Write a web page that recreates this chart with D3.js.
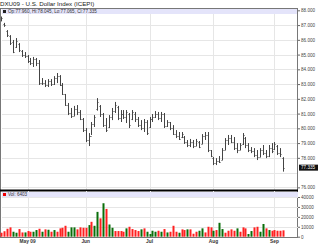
<!DOCTYPE html>
<html>
<head>
<meta charset="utf-8">
<script src="https://cdn.jsdelivr.net/npm/d3@7"></script>
<style>
  body { margin: 0; background: #fff; }
  svg { display: block; font-family: "Liberation Sans", Arial, sans-serif; }
</style>
</head>
<body>
<script>
// daily bars, 20 Apr 2009 .. 4 Sep 2009
const firstDay = new Date(2009, 3, 20);
const lastDay = new Date(2009, 8, 4);
const holidays = ["2009-05-25", "2009-07-03"];

const opens = [87.40, 87.10, 86.60, 86.25, 85.85, 85.50, 85.70, 85.25, 84.95, 84.90,
  84.55, 84.40, 84.70, 84.45, 83.10, 83.05, 82.95, 83.20, 83.00, 83.40,
  83.55, 82.95, 82.35, 81.60, 81.05, 80.85, 81.30, 81.10, 80.65, 79.90,
  79.20, 79.50, 80.30, 81.30, 81.50, 80.95, 80.20, 80.10, 80.75, 81.20,
  81.45, 80.70, 80.95, 80.80, 81.00, 80.60, 81.00, 80.60, 80.25, 80.05,
  80.40, 80.10, 80.60, 80.80, 81.00, 80.70, 80.95, 80.15, 80.40, 80.00,
  79.65, 79.45, 79.40, 79.40, 79.05, 78.85, 79.10, 78.80, 79.10, 78.95,
  79.50, 79.55, 78.50, 78.00, 77.65, 77.80, 77.85, 78.55, 79.20, 79.35,
  79.10, 78.65, 78.55, 78.95, 79.35, 78.85, 78.50, 78.45, 78.20, 78.05,
  78.50, 78.30, 78.10, 78.70, 78.60, 78.80, 78.35, 77.96];
const highs = [87.58, 87.15, 86.66, 86.32, 85.99, 86.12, 85.78, 85.31, 85.17, 84.97,
  84.77, 84.84, 84.77, 84.63, 83.41, 83.27, 83.34, 83.34, 83.54, 83.75,
  83.61, 83.07, 82.33, 81.72, 81.38, 81.52, 81.58, 81.24, 80.70, 80.02,
  79.68, 80.43, 80.90, 82.05, 81.58, 81.04, 80.70, 80.90, 81.38, 81.79,
  81.52, 81.24, 81.24, 81.24, 81.04, 81.24, 81.11, 80.77, 80.56, 80.63,
  80.56, 80.77, 80.97, 81.17, 81.11, 81.11, 81.04, 80.56, 80.43, 80.22,
  79.88, 79.75, 79.75, 79.48, 79.21, 79.28, 79.21, 79.28, 79.14, 79.61,
  79.75, 79.75, 78.53, 78.05, 77.98, 78.12, 78.66, 79.34, 79.55, 79.55,
  79.41, 79.00, 79.00, 79.68, 79.41, 79.00, 78.73, 78.66, 78.53, 78.66,
  78.87, 78.53, 78.87, 79.00, 79.07, 78.87, 78.66, 78.045];
const lows = [87.25, 86.88, 86.19, 85.65, 85.10, 85.45, 85.17, 84.84, 84.77, 84.43,
  84.29, 84.16, 84.22, 82.94, 82.94, 82.80, 82.80, 82.87, 82.94, 83.07,
  82.87, 82.26, 81.52, 80.90, 80.70, 80.84, 80.90, 80.56, 79.75, 79.07,
  78.80, 79.55, 80.09, 81.20, 80.77, 80.09, 79.75, 80.02, 80.56, 81.04,
  80.56, 80.43, 80.63, 80.36, 80.02, 80.56, 80.43, 80.09, 79.88, 79.75,
  79.55, 80.02, 80.43, 80.70, 80.56, 80.43, 80.02, 80.09, 79.88, 79.55,
  79.34, 79.21, 79.34, 78.94, 78.73, 78.73, 78.66, 78.80, 78.66, 78.94,
  79.21, 78.39, 78.05, 77.51, 77.51, 77.65, 77.85, 78.53, 78.87, 79.00,
  78.53, 78.32, 78.53, 78.87, 78.66, 78.39, 78.32, 78.05, 77.85, 78.05,
  78.19, 77.98, 78.05, 78.32, 78.53, 78.19, 78.05, 77.065];
const closes = [87.45, 87.00, 86.30, 85.80, 85.20, 85.95, 85.30, 84.95, 84.90, 84.55,
  84.40, 84.70, 84.45, 83.10, 83.05, 82.95, 83.20, 83.00, 83.40, 83.55,
  82.95, 82.35, 81.60, 81.05, 80.85, 81.30, 81.10, 80.65, 79.90, 79.20,
  79.50, 80.30, 80.80, 81.80, 80.95, 80.20, 79.90, 80.75, 81.20, 81.60,
  80.70, 80.95, 80.80, 81.10, 80.20, 81.10, 80.60, 80.25, 80.05, 80.45,
  79.70, 80.60, 80.80, 81.00, 80.70, 80.95, 80.15, 80.40, 80.00, 79.65,
  79.45, 79.30, 79.60, 79.05, 78.85, 79.10, 78.80, 79.15, 78.75, 79.50,
  79.55, 78.50, 78.15, 77.65, 77.80, 77.75, 78.55, 79.20, 79.35, 79.10,
  78.65, 78.50, 78.90, 79.55, 78.85, 78.50, 78.45, 78.20, 78.05, 78.50,
  78.30, 78.10, 78.70, 78.45, 78.95, 78.35, 78.25, 77.335];

const volumes = [4000, 5500, 8000, 9400, 5000, 4000, 7700, 4300, 4300, 5700,
  5000, 5000, 6700, 8000, 5000, 7400, 7000, 5000, 6700, 5000,
  8400, 9000, 11000, 5000, 9400, 9400, 7400, 9400, 9000, 9000,
  11700, 15000, 11000, 25000, 18500, 33700, 28000, 12300, 9000, 5700,
  5700, 5700, 5000, 8400, 10000, 7700, 6700, 5700, 7400, 8400,
  5000, 2700, 6000, 5000, 6000, 5000, 7700, 4300, 5000, 11000,
  5000, 4000, 7400, 6700, 7400, 7400, 3000, 5000, 6000, 8400,
  4300, 10000, 9400, 6000, 6700, 14000, 7700, 4000, 6000, 7400,
  6000, 8400, 5000, 9400, 8400, 2700, 5700, 9400, 10000, 5000,
  12800, 8400, 6700, 6000, 6700, 6000, 6000, 6403];
// 1 = up volume (green), -1 = down volume (red)
const volDir = [-1, -1, -1, -1, 1, 1, -1, -1, 1, -1,
  -1, 1, 1, -1, 1, -1, 1, -1, 1, -1,
  -1, -1, -1, 1, 1, 1, -1, -1, -1, -1,
  1, -1, 1, 1, -1, 1, -1, 1, 1, -1,
  -1, -1, -1, 1, -1, -1, -1, -1, 1, -1,
  1, 1, 1, 1, -1, 1, -1, 1, -1, -1,
  -1, 1, -1, -1, 1, -1, -1, -1, 1, 1,
  -1, -1, -1, 1, -1, 1, 1, -1, -1, -1,
  -1, 1, -1, -1, -1, 1, 1, -1, -1, 1,
  1, -1, 1, -1, -1, -1, -1, -1];

const monthLabels = ["May 09", "Jun", "Jul", "Aug", "Sep"];
const priceTicks = [76, 77, 78, 79, 80, 81, 82, 83, 84, 85, 86, 87, 88];
const volTicks = [0, 10000, 20000, 30000, 40000];
const title = "DXU09 - U.S. Dollar Index (ICEPI)";
const priceLegend = "Op:77.960, Hi:78.045, Lo:77.065, Cl:77.335";
const volLegend = "Vol: 6403";
const lastPrice = 77.335;

// trading days
const hol = new Set(holidays);
const fmtDay = d3.timeFormat("%Y-%m-%d");
const days = d3.timeDay.range(firstDay, d3.timeDay.offset(lastDay, 1))
  .filter(d => d.getDay() > 0 && d.getDay() < 6 && !hol.has(fmtDay(d)));

const bars = days.map((d, i) => ({
  date: d, o: opens[i], h: highs[i], l: lows[i], c: closes[i],
  v: volumes[i], up: volDir[i] > 0
}));

const monthStarts = [];
bars.forEach((b, i) => {
  if (i > 0 && b.date.getMonth() !== bars[i - 1].date.getMonth()) monthStarts.push(i);
});

const W = 320, H = 245;
const L = 2, R = 298;
const pTop = 8, pBot = 190, vTop = 190, vBot = 237;

const svg = d3.select("body").append("svg")
  .attr("width", W)
  .attr("height", H);

const x = d3.scaleLinear().domain([0.2, 102.1]).range([L, R]);
const yP = d3.scaleLinear().domain([75.82, 88.09]).range([pBot, pTop + 1]);
const yV = d3.scaleLinear().domain([0, 40000]).range([236.7, 197]);
const px = v => Math.round(v) + 0.5;

// title
svg.append("text")
  .attr("x", 0).attr("y", 6)
  .attr("font-size", 6.2)
  .attr("fill", "#222")
  .text(title);

// ---- price panel
const pg = svg.append("g");

pg.append("g").selectAll("line")
  .data(priceTicks)
  .join("line")
  .attr("x1", L).attr("x2", R)
  .attr("y1", d => px(yP(d))).attr("y2", d => px(yP(d)))
  .attr("stroke", "#e6e6e6");

pg.append("g").selectAll("line")
  .data(monthStarts)
  .join("line")
  .attr("x1", d => px(x(d))).attr("x2", d => px(x(d)))
  .attr("y1", pTop).attr("y2", pBot)
  .attr("stroke", "#e6e6e6");

pg.append("rect")
  .attr("x", L).attr("y", pTop + 1)
  .attr("width", R - L).attr("height", 5)
  .attr("fill", "#e4e4fa");
pg.append("rect")
  .attr("x", 3).attr("y", 10).attr("width", 3).attr("height", 3)
  .attr("fill", "#222");
pg.append("text")
  .attr("x", 8).attr("y", 13)
  .attr("font-size", 4.6)
  .attr("fill", "#333")
  .text(priceLegend);

const ohlc = pg.append("g")
  .attr("stroke", "#444")
  .attr("stroke-width", 1);

ohlc.selectAll("line.hl")
  .data(bars)
  .join("line")
  .attr("class", "hl")
  .attr("x1", (d, i) => px(x(i))).attr("x2", (d, i) => px(x(i)))
  .attr("y1", d => yP(d.h)).attr("y2", d => yP(d.l));

ohlc.selectAll("line.op")
  .data(bars)
  .join("line")
  .attr("class", "op")
  .attr("x1", (d, i) => px(x(i)) - 1).attr("x2", (d, i) => px(x(i)))
  .attr("y1", d => px(yP(d.o))).attr("y2", d => px(yP(d.o)));

ohlc.selectAll("line.cl")
  .data(bars)
  .join("line")
  .attr("class", "cl")
  .attr("x1", (d, i) => px(x(i))).attr("x2", (d, i) => px(x(i)) + 1)
  .attr("y1", d => px(yP(d.c))).attr("y2", d => px(yP(d.c)));

const pAxis = svg.append("g")
  .attr("transform", `translate(${R},0)`)
  .call(d3.axisRight(yP)
    .tickValues(priceTicks.filter(t => t !== 77))
    .tickFormat(d3.format(".3f"))
    .tickSize(2)
    .tickPadding(1));
pAxis.select(".domain").remove();
pAxis.selectAll("line").attr("stroke", "#666");
pAxis.selectAll("text").attr("font-size", 4.6).attr("fill", "#444")
  .attr("font-family", "Liberation Sans, Arial, sans-serif");

// last price marker
svg.append("rect")
  .attr("x", 299).attr("y", yP(lastPrice) - 3)
  .attr("width", 19).attr("height", 6)
  .attr("fill", "#111");
svg.append("text")
  .attr("x", 301).attr("y", yP(lastPrice) + 1.7)
  .attr("font-size", 4.6).attr("fill", "#fff")
  .text(d3.format(".3f")(lastPrice));

// frame
svg.append("rect")
  .attr("x", L - 1.5).attr("y", pTop + 0.5)
  .attr("width", R - L + 1).attr("height", vBot - pTop)
  .attr("fill", "none").attr("stroke", "#777");
svg.append("line")
  .attr("x1", 0).attr("x2", R)
  .attr("y1", pBot + 0.5).attr("y2", pBot + 0.5)
  .attr("stroke", "#000").attr("stroke-width", 2);

// ---- volume panel
const vg = svg.append("g");

vg.append("g").selectAll("line")
  .data(volTicks.slice(1))
  .join("line")
  .attr("x1", L).attr("x2", R)
  .attr("y1", d => px(yV(d))).attr("y2", d => px(yV(d)))
  .attr("stroke", "#e6e6e6");

vg.append("g").selectAll("line")
  .data(monthStarts)
  .join("line")
  .attr("x1", d => px(x(d))).attr("x2", d => px(x(d)))
  .attr("y1", vTop + 1).attr("y2", vBot)
  .attr("stroke", "#e6e6e6");

vg.append("rect")
  .attr("x", L).attr("y", vTop + 2)
  .attr("width", R - L).attr("height", 5)
  .attr("fill", "#e4e4fa");
vg.append("rect")
  .attr("x", 3).attr("y", vTop + 3).attr("width", 3).attr("height", 3)
  .attr("fill", "#e00");
vg.append("text")
  .attr("x", 8).attr("y", vTop + 6)
  .attr("font-size", 4.6).attr("fill", "#333")
  .text(volLegend);

vg.append("g").selectAll("rect")
  .data(bars)
  .join("rect")
  .attr("x", (d, i) => Math.round(x(i)) - 0.5)
  .attr("width", 2)
  .attr("y", d => yV(d.v))
  .attr("height", d => yV(0) - yV(d.v))
  .attr("fill", d => d.up ? "#0a6e0a" : "#ff2020");

const vAxis = svg.append("g")
  .attr("transform", `translate(${R},0)`)
  .call(d3.axisRight(yV)
    .tickValues(volTicks)
    .tickFormat(d3.format("d"))
    .tickSize(2)
    .tickPadding(1));
vAxis.select(".domain").remove();
vAxis.selectAll("line").attr("stroke", "#666");
vAxis.selectAll("text").attr("font-size", 4.6).attr("fill", "#444")
  .attr("font-family", "Liberation Sans, Arial, sans-serif");

// month labels
svg.append("g").selectAll("text")
  .data(monthStarts)
  .join("text")
  .attr("x", d => x(d))
  .attr("y", 243)
  .attr("text-anchor", "middle")
  .attr("font-size", 4.8)
  .attr("font-weight", "bold")
  .attr("fill", "#333")
  .text((d, i) => monthLabels[i]);
</script>
</body>
</html>
